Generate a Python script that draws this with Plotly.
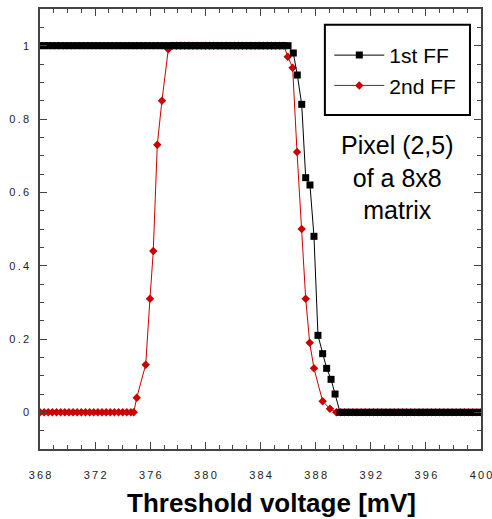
import plotly.graph_objects as go

# Threshold scan of pixel (2,5) in an 8x8 matrix, two flip-flops
ff1_voltage = [
    368.0, 368.3, 368.6, 368.9, 369.2, 369.5, 369.8, 370.1, 370.4, 370.7,
    371.0, 371.3, 371.6, 371.9, 372.2, 372.5, 372.8, 373.1, 373.4, 373.7,
    374.0, 374.3, 374.6, 374.9, 375.2, 375.5, 375.8, 376.1, 376.4, 376.7,
    377.0, 377.3, 377.6, 377.9, 378.2, 378.5, 378.8, 379.1, 379.4, 379.7,
    380.0, 380.3, 380.6, 380.9, 381.2, 381.5, 381.8, 382.1, 382.4, 382.7,
    383.0, 383.3, 383.6, 383.9, 384.2, 384.5, 384.8, 385.1, 385.4, 385.7,
    386.0,
    386.38, 386.67, 386.99, 387.28, 387.59, 387.88, 388.17, 388.51, 388.8,
    389.12, 389.41, 389.77,
    390.1, 390.4, 390.7, 391.0, 391.3, 391.6, 391.9, 392.2, 392.5, 392.8,
    393.1, 393.4, 393.7, 394.0, 394.3, 394.6, 394.9, 395.2, 395.5, 395.8,
    396.1, 396.4, 396.7, 397.0, 397.3, 397.6, 397.9, 398.2, 398.5, 398.8,
    399.1, 399.4, 399.7, 400.0,
]
ff1_prob = [
    1, 1, 1, 1, 1, 1, 1, 1, 1, 1,
    1, 1, 1, 1, 1, 1, 1, 1, 1, 1,
    1, 1, 1, 1, 1, 1, 1, 1, 1, 1,
    1, 1, 1, 1, 1, 1, 1, 1, 1, 1,
    1, 1, 1, 1, 1, 1, 1, 1, 1, 1,
    1, 1, 1, 1, 1, 1, 1, 1, 1, 1,
    1,
    0.98, 0.92, 0.84, 0.64, 0.62, 0.48, 0.21, 0.16, 0.12,
    0.09, 0.05, 0.0,
    0, 0, 0, 0, 0, 0, 0, 0, 0, 0,
    0, 0, 0, 0, 0, 0, 0, 0, 0, 0,
    0, 0, 0, 0, 0, 0, 0, 0, 0, 0,
    0, 0, 0, 0,
]

ff2_voltage = [
    368.0, 368.3, 368.6, 368.9, 369.2, 369.5, 369.8, 370.1, 370.4, 370.7,
    371.0, 371.3, 371.6, 371.9, 372.2, 372.5, 372.8, 373.1, 373.4, 373.7,
    374.0, 374.3, 374.6, 374.8,
    375.02, 375.67, 375.98, 376.22, 376.51, 376.85, 377.31,
    377.6, 377.9, 378.2, 378.5, 378.8, 379.1, 379.4, 379.7, 380.0, 380.3,
    380.6, 380.9, 381.2, 381.5, 381.8, 382.1, 382.4, 382.7, 383.0, 383.3,
    383.6, 383.9, 384.2, 384.5, 384.8, 385.1, 385.4, 385.7,
    385.98, 386.33, 386.65, 386.99, 387.28, 387.57, 387.88, 388.51, 389.04,
    389.5, 389.8,
    390.1, 390.4, 390.7, 391.0, 391.3, 391.6, 391.9, 392.2, 392.5, 392.8,
    393.1, 393.4, 393.7, 394.0, 394.3, 394.6, 394.9, 395.2, 395.5, 395.8,
    396.1, 396.4, 396.7, 397.0, 397.3, 397.6, 397.9, 398.2, 398.5, 398.8,
    399.1, 399.4, 399.7, 400.0,
]
ff2_prob = [
    0, 0, 0, 0, 0, 0, 0, 0, 0, 0,
    0, 0, 0, 0, 0, 0, 0, 0, 0, 0,
    0, 0, 0, 0,
    0.04, 0.13, 0.31, 0.44, 0.73, 0.85, 0.99,
    1, 1, 1, 1, 1, 1, 1, 1, 1, 1,
    1, 1, 1, 1, 1, 1, 1, 1, 1, 1,
    1, 1, 1, 1, 1, 1, 1, 1,
    0.97, 0.94, 0.71, 0.50, 0.31, 0.19, 0.12, 0.03, 0.01,
    0, 0,
    0, 0, 0, 0, 0, 0, 0, 0, 0, 0,
    0, 0, 0, 0, 0, 0, 0, 0, 0, 0,
    0, 0, 0, 0, 0, 0, 0, 0, 0, 0,
    0, 0, 0, 0,
]

x_ticks = [368, 372, 376, 380, 384, 388, 392, 396, 400]
y_ticks = [0, 0.2, 0.4, 0.6, 0.8, 1]

TS = "\u2009"  # thin space for the spread-out tick lettering
x_tick_text = [TS.join(str(v)) for v in x_ticks]
y_tick_text = ["0", TS.join("0.2"), TS.join("0.4"), TS.join("0.6"), TS.join("0.8"), "1"]

FONT = "Liberation Sans, Arial, sans-serif"
RED = "#CC0000"
AXIS = "#444444"

fig = go.Figure()
fig.add_trace(go.Scatter(
    x=ff2_voltage, y=ff2_prob, name="2nd FF", mode="lines+markers",
    line=dict(color=RED, width=1),
    marker=dict(symbol="diamond", size=6.5, color=RED),
))
fig.add_trace(go.Scatter(
    x=ff1_voltage, y=ff1_prob, name="1st FF", mode="lines+markers",
    line=dict(color="black", width=1),
    marker=dict(symbol="square", size=7, color="black"),
))

axis_common = dict(
    showline=True, linecolor=AXIS, linewidth=1.5, mirror="allticks",
    ticks="inside", tickcolor=AXIS, tickwidth=1.2, ticklen=7,
    showgrid=False, zeroline=False, automargin=False,
    tickfont=dict(family=FONT, size=11, color="#222222"),
)

fig.update_xaxes(
    range=[368, 400], tickvals=x_ticks, ticktext=x_tick_text,
    ticklabelstandoff=15, ticklabeloverflow="allow",
    minor=dict(dtick=1, ticks="inside", ticklen=4, tickcolor=AXIS, tickwidth=1),
    **axis_common,
)
fig.update_yaxes(
    range=[-0.1, 1.1], tickvals=y_ticks, ticktext=y_tick_text,
    ticklabelstandoff=7,
    minor=dict(dtick=0.05, tick0=0, ticks="inside", ticklen=4, tickcolor=AXIS, tickwidth=1),
    **axis_common,
)

fig.add_annotation(
    text="Pixel (2,5)<br>of a 8x8<br>matrix",
    xref="paper", yref="paper", x=0.81, y=0.616,
    xanchor="center", yanchor="middle", showarrow=False, align="center",
    font=dict(family=FONT, size=25, color="black"),
)
fig.add_annotation(
    text="<b>Threshold voltage [mV]</b>",
    xref="paper", yref="paper", x=0.525, y=-0.123,
    xanchor="center", yanchor="middle", showarrow=False,
    font=dict(family=FONT, size=26, color="black"),
)

# Frame around the legend entries
fig.add_shape(
    type="rect", xref="paper", yref="paper",
    x0=0.646, x1=0.975, y0=0.759, y1=0.964,
    line=dict(color="black", width=2), fillcolor="white", layer="above",
)

fig.update_layout(
    width=492, height=519,
    margin=dict(l=40, r=11, t=9, b=70),
    paper_bgcolor="white", plot_bgcolor="white",
    showlegend=True,
    legend=dict(
        x=0.656, y=0.941, xanchor="left", yanchor="top",
        traceorder="reversed", itemwidth=50, tracegroupgap=0,
        bgcolor="rgba(0,0,0,0)", borderwidth=0,
        font=dict(family=FONT, size=21, color="black"),
    ),
)

fig.write_html("out.html")
